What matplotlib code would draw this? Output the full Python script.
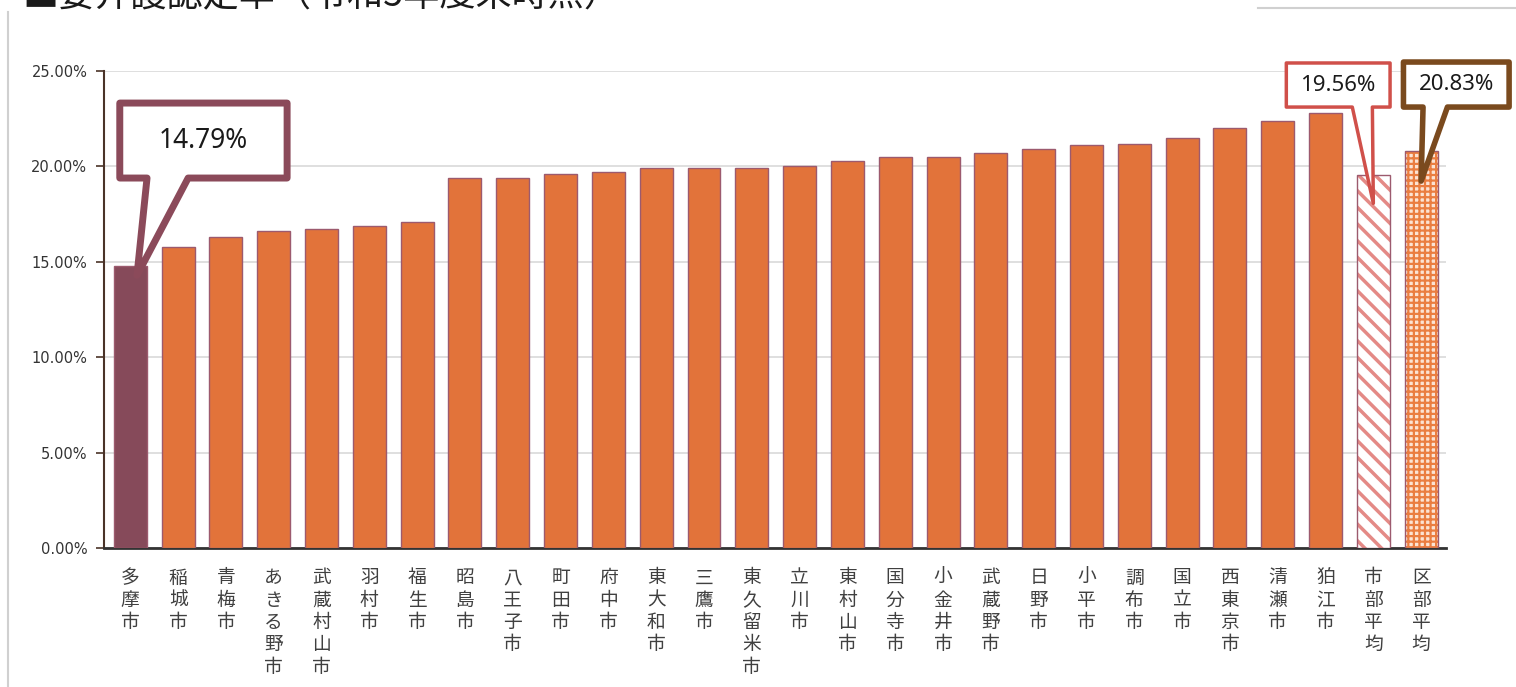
import numpy as np
import matplotlib.pyplot as plt
from matplotlib.patches import Polygon
from matplotlib.lines import Line2D

plt.rcParams['font.family'] = ['Noto Sans CJK JP', 'DejaVu Sans']

# data
cities = ['多摩市', '稲城市', '青梅市', 'あきる野市', '武蔵村山市', '羽村市', '福生市',
          '昭島市', '八王子市', '町田市', '府中市', '東大和市', '三鷹市', '東久留米市',
          '立川市', '東村山市', '国分寺市', '小金井市', '武蔵野市', '日野市', '小平市',
          '調布市', '国立市', '西東京市', '清瀬市', '狛江市', '市部平均', '区部平均']
rates = [14.79, 15.78, 16.30, 16.60, 16.70, 16.90, 17.10,
         19.40, 19.40, 19.60, 19.70, 19.90, 19.90, 19.90,
         20.00, 20.30, 20.50, 20.50, 20.70, 20.90, 21.10,
         21.20, 21.50, 22.00, 22.40, 22.80, 19.56, 20.83]
yticks = [0, 5, 10, 15, 20, 25]
title = '■要介護認定率（令和5年度末時点）'

ORANGE = '#E2733A'
EDGE = '#9C5A6E'

fig = plt.figure(figsize=(15.16, 6.87), dpi=100)
ax = fig.add_axes([104/1516, 1-548/687, (1446-104)/1516, (548-71)/687])

x = np.arange(len(cities))
w = 0.69
n_city = len(cities) - 2

# plain bars
colors = ['#864A5A'] + [ORANGE]*(n_city-1)
ax.bar(x[:n_city], rates[:n_city], width=w, color=colors, edgecolor=EDGE, linewidth=1, zorder=3)

# 市部平均: white with diagonal stripes
plt.rcParams['hatch.linewidth'] = 2.5
ax.bar(x[n_city], rates[n_city], width=w, color='white', edgecolor='#E48A86',
       hatch='\\\\', linewidth=0, zorder=3)
ax.bar(x[n_city], rates[n_city], width=w, fill=False, edgecolor=EDGE, linewidth=1, zorder=4)

# 区部平均: orange checker
plt.rcParams['hatch.linewidth'] = 1.6
ax.bar(x[n_city+1], rates[n_city+1], width=w, color='#FBE3D3', edgecolor='#EA7D40',
       hatch='+++', linewidth=0, zorder=3)
ax.bar(x[n_city+1], rates[n_city+1], width=w, fill=False, edgecolor=EDGE, linewidth=1, zorder=4)

ax.set_xlim(-0.55, 27.52)
ax.set_ylim(0, 25)
ax.set_yticks(yticks)
ax.set_yticklabels(['%.2f%%' % v for v in yticks], fontsize=10.5, color='#333333',
                   family=['DejaVu Sans'])
ax.set_xticks(x)
ax.set_xticklabels(['\n'.join(c) for c in cities], fontsize=13.5, color='#404040',
                   va='top', linespacing=1.08)
ax.tick_params(axis='x', length=0, pad=14)
ax.tick_params(axis='y', length=6, width=1.2, color='#4A3328', pad=6, direction='out')

ax.grid(axis='y', color='#D9D9D9', linewidth=1.2, zorder=0)
ax.set_axisbelow(True)
for s in ['top', 'right']:
    ax.spines[s].set_visible(False)
ax.spines['left'].set_color('#4A3328')
ax.spines['left'].set_linewidth(1.5)
ax.spines['bottom'].set_color('#333333')
ax.spines['bottom'].set_linewidth(2)


def callout(i, tip_dy, box, base, text, ec, lw, fs):
    # box = (x0, x1, y0, y1) in data units, base = tail base x0,x1
    x0, x1, y0, y1 = box
    tip = (x[i] + tip_dy[0], rates[i] + tip_dy[1])
    pts = [(x0, y0), (base[0], y0), tip, (base[1], y0), (x1, y0), (x1, y1), (x0, y1)]
    p = Polygon(pts, closed=True, facecolor='white', edgecolor=ec, linewidth=lw,
                joinstyle='round', clip_on=False, zorder=6)
    ax.add_patch(p)
    ax.text((x0+x1)/2, (y0+y1)/2, text, ha='center', va='center', fontsize=fs,
            color='#1A1A1A', zorder=7, clip_on=False, family=['Noto Sans'])


callout(0, (0.14, -0.5), (-0.22, 3.28, 19.39, 23.32), (0.35, 1.21), '14.79%', '#8B4A5A', 5, 19)
callout(26, (0.0, -1.5), (24.18, 26.35, 23.11, 25.42), (25.56, 25.98), '19.56%', '#D0504A', 2.5, 16)
callout(27, (0.0, -1.6), (26.63, 28.84, 23.11, 25.47), (27.04, 27.55), '20.83%', '#7A4A1E', 4, 16)

# outer frame pieces and cut-off title
fig.add_artist(Line2D([8/1516, 8/1516], [0, 1-12/687], color='#D0D0D0', linewidth=1.5))
fig.add_artist(Line2D([1258/1516, 1], [1-8/687, 1-8/687], color='#D0D0D0', linewidth=1.5))
fig.text(22/1516, 1-6/687, title, fontsize=26, color='#1A1A1A', va='baseline', ha='left')

fig.savefig('out.png', dpi=100)
